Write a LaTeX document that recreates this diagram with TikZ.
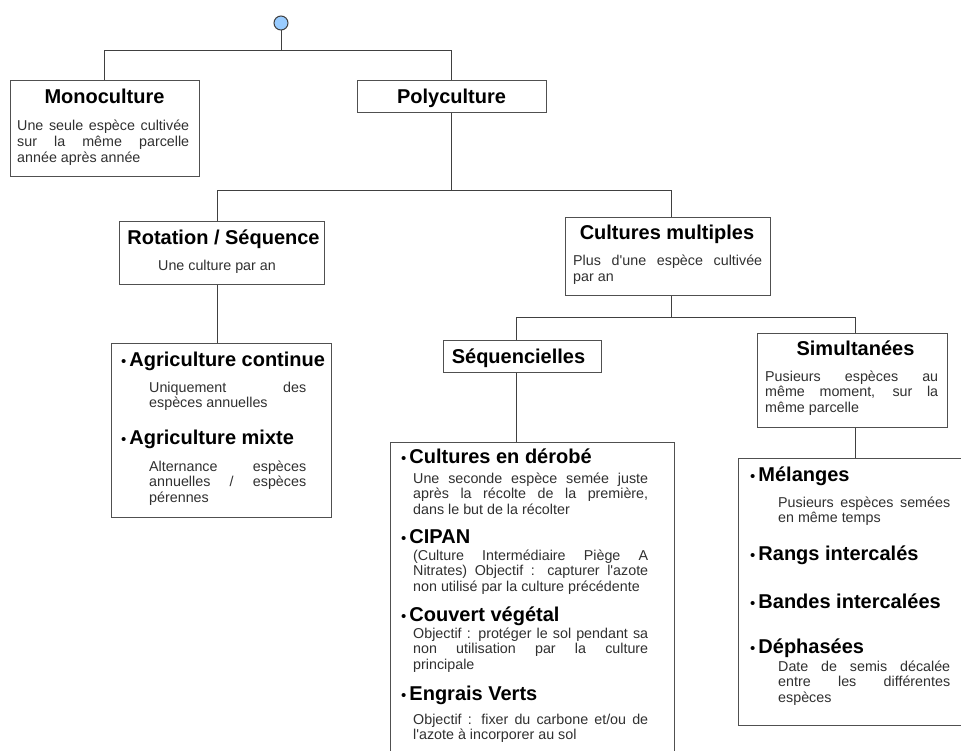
\documentclass[tikz,border=0pt]{standalone}
\usepackage{fontspec}
\setmainfont{Liberation Sans}
\usetikzlibrary{positioning}
\definecolor{linegray}{HTML}{404040}
\definecolor{boxgray}{HTML}{505050}
\definecolor{textgray}{HTML}{303030}
\definecolor{rootblue}{HTML}{99CCFF}
\newcommand{\bul}{{\mdseries\fontsize{15}{16}\selectfont\textbullet}\hspace{3pt}}
\newcommand{\apo}{\textquotesingle}
\hyphenpenalty=10000
\begin{document}
\begin{tikzpicture}[x=1pt,y=-1pt,
  box/.style={draw=boxgray,line width=1pt,fill=white,inner sep=0pt},
  head/.style={font=\fontsize{20}{22}\selectfont\bfseries,inner sep=0pt,anchor=base},
  bhead/.style={font=\fontsize{20}{22}\selectfont\bfseries,inner sep=0pt,anchor=base west},
  body/.style={font=\fontsize{14.3}{15.6}\selectfont,text=textgray,inner sep=0pt,align=justify,anchor=base west},
  link/.style={draw=linegray,line width=1pt}]
\clip (0,0) rectangle (961,751);
\node [circle,draw=linegray,fill=rootblue,line width=1pt,minimum size=14pt,inner sep=0pt] (root) at (281,23) {};
\node [box,minimum width=189pt,minimum height=96pt] (mono) at (104.5,129) {};
\node [box,minimum width=189pt,minimum height=32pt] (poly) at (451.5,97) {};
\node [box,minimum width=205pt,minimum height=63pt] (rot) at (221.5,253.5) {};
\node [box,minimum width=205pt,minimum height=78pt] (cm) at (667.5,257) {};
\node [box,minimum width=220pt,minimum height=174pt] (agri) at (221,430) {};
\node [box,minimum width=158pt,minimum height=32pt] (seq) at (522,356) {};
\node [box,minimum width=190pt,minimum height=94pt] (sim) at (852,380) {};
\node [box,minimum width=284pt,minimum height=330pt] (cult) at (532,607) {};
\node [box,minimum width=237pt,minimum height=267pt] (mel) at (856.5,591.5) {};
\draw [link] (root.south) -- ++(0,21);
\draw [link] (mono.north) -- ++(0,-30) -| (poly.north);
\draw [link] (poly.south) -- ++(0,78);
\draw [link] ([xshift=-4.5pt]rot.north) -- ++(0,-31) -| ([xshift=3.5pt]cm.north);
\draw [link] ([xshift=-4.5pt]rot.south) -- ([xshift=-4.5pt]rot.south |- agri.north);
\draw [link] ([xshift=3.5pt]cm.south) -- ++(0,22);
\draw [link] ([xshift=-6pt]seq.north) -- ++(0,-22) -| ([xshift=3pt]sim.north);
\draw [link] ([xshift=-6pt]seq.south) -- ([xshift=-6pt]seq.south |- cult.north);
\draw [link] ([xshift=3pt]sim.south) -- ([xshift=3pt]sim.south |- mel.north);
\node [head] (monot) at (104.5,104) {Monoculture};
\node [body,text width=172pt] (monob) at (17,131) {Une seule espèce cultivée\linebreak sur la même parcelle\linebreak année après année};
\node [head] (polyt) at (451.5,104) {Polyculture};
\node [head] (rott) at (223.5,245) {Rotation / Séquence};
\node [font=\fontsize{14.3}{16}\selectfont,text=textgray,inner sep=0pt,anchor=base] (rotb) at (217,271) {Une culture par an};
\node [head] (cmt) at (667,240) {Cultures multiples};
\node [body,text width=189pt] (cmb) at (573,266) {Plus d\apo une espèce cultivée\linebreak par an};
\node [head] (seqt) at (518.5,363) {Séquencielles};
\node [head] (simt) at (855.5,355) {Simultanées};
\node [body,text width=173pt] (simb) at (765,381) {Pusieurs espèces au\linebreak même moment, sur la\linebreak même parcelle};
\node [bhead] (agri1) at (121,366) {\bul Agriculture continue};
\node [body,text width=157pt] (agri1b) at (149,392) {Uniquement des\linebreak espèces annuelles};
\node [bhead] (agri2) at (121,444) {\bul Agriculture mixte};
\node [body,text width=157pt] (agri2b) at (149,471) {Alternance espèces\linebreak annuelles / espèces\linebreak pérennes};
\node [bhead] (cult1) at (401,463) {\bul Cultures en dérobé};
\node [body,text width=235pt] (cult1b) at (413,483) {Une seconde espèce semée juste\linebreak après la récolte de la première,\linebreak dans le but de la récolter};
\node [bhead] (cult2) at (401,543) {\bul CIPAN};
\node [body,text width=235pt] (cult2b) at (413,560) {(Culture Intermédiaire Piège A\linebreak Nitrates) Objectif : capturer l\apo azote\linebreak non utilisé par la culture précédente};
\node [bhead] (cult3) at (401,621) {\bul Couvert végétal};
\node [body,text width=235pt] (cult3b) at (413,638) {Objectif : protéger le sol pendant sa\linebreak non utilisation par la culture\linebreak principale};
\node [bhead] (cult4) at (401,700) {\bul Engrais Verts};
\node [body,text width=235pt] (cult4b) at (413,724) {Objectif : fixer du carbone et/ou de\linebreak l\apo azote à incorporer au sol};
\node [bhead] (mel1) at (750,481) {\bul Mélanges};
\node [body,text width=172pt] (mel1b) at (778,507) {Pusieurs espèces semées\linebreak en même temps};
\node [bhead] (mel2) at (750,560) {\bul Rangs intercalés};
\node [bhead] (mel3) at (750,608) {\bul Bandes intercalées};
\node [bhead] (mel4) at (750,653) {\bul Déphasées};
\node [body,text width=172pt] (mel4b) at (778,671) {Date de semis décalée\linebreak entre les différentes\linebreak espèces};
\end{tikzpicture}
\end{document}
